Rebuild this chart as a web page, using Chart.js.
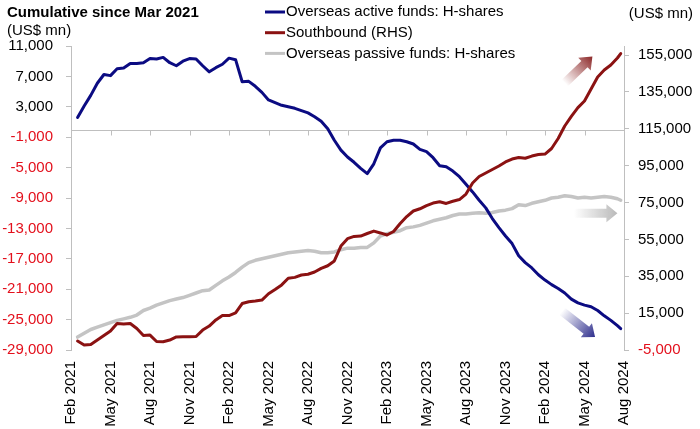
<!DOCTYPE html>
<html>
<head>
<meta charset="utf-8">
<script src="https://cdn.jsdelivr.net/npm/chart.js@4/dist/chart.umd.min.js"></script>
<style>
  html, body { margin: 0; padding: 0; background: #fff; }
  #wrap { width: 700px; height: 429px; position: relative; }
</style>
</head>
<body>
<div id="wrap"><canvas id="flowChart"></canvas></div>
<script>
// months since 1 Feb 2021 (half-month readings)
const months = [
  0.5, 1, 1.5, 2, 2.5, 3, 3.5, 4, 4.5, 5,
  5.5, 6, 6.5, 7, 7.5, 8, 8.5, 9, 9.5, 10,
  10.5, 11, 11.5, 12, 12.5, 13, 13.5, 14, 14.5, 15,
  15.5, 16, 16.5, 17, 17.5, 18, 18.5, 19, 19.5, 20,
  20.5, 21, 21.5, 22, 22.5, 23, 23.5, 24, 24.5, 25,
  25.5, 26, 26.5, 27, 27.5, 28, 28.5, 29, 29.5, 30,
  30.5, 31, 31.5, 32, 32.5, 33, 33.5, 34, 34.5, 35,
  35.5, 36, 36.5, 37, 37.5, 38, 38.5, 39, 39.5, 40,
  40.5, 41, 41.5, 41.75
];

const tickLabels = [
  'Feb 2021', 'May 2021', 'Aug 2021', 'Nov 2021', 'Feb 2022', 'May 2022', 'Aug 2022',
  'Nov 2022', 'Feb 2023', 'May 2023', 'Aug 2023', 'Nov 2023', 'Feb 2024', 'May 2024', 'Aug 2024'
];

// US$ mn, left axis
const activeFunds = [
  1600, 3100, 4500, 6100, 7250, 7100, 8000, 8100, 8700, 8700,
  8800, 9350, 9300, 9500, 8800, 8400, 9000, 9350, 9300, 8400,
  7600, 8150, 8600, 9400, 9200, 6300, 6350, 5700, 4900, 3900,
  3550, 3200, 3000, 2800, 2500, 2200, 1700, 1100, 100, -1400,
  -2700, -3600, -4300, -5100, -5800, -4500, -2400, -1600, -1400, -1400,
  -1600, -1900, -2600, -2900, -3700, -4750, -4900, -5450, -6200, -7200,
  -8200, -9300, -10300, -11700, -12900, -14000, -15000, -16600, -17500, -18200,
  -19100, -19800, -20400, -20900, -21500, -22300, -22800, -23100, -23300, -23800,
  -24500, -25100, -25800, -26200
];

// US$ mn, right axis
const southbound = [
  -100, -2300, -2000, 400, 2900, 5300, 9400, 9100, 9400, 6700,
  2900, 3100, -400, -500, 400, 2100, 2200, 2200, 2300, 5800,
  8000, 11300, 13700, 13700, 15100, 20200, 21200, 21600, 22100, 25500,
  27800, 30300, 33900, 34400, 35700, 36100, 37300, 39300, 40700, 43300,
  51400, 55400, 56600, 56800, 58200, 59500, 58500, 57400, 59300, 63600,
  67400, 70400, 71600, 73300, 74700, 75400, 74500, 75700, 76600, 79600,
  85600, 89100, 91000, 92900, 94800, 97000, 98600, 99400, 99000, 100200,
  101000, 101300, 104300, 109700, 116500, 121700, 126500, 130100, 136600, 143100,
  146900, 149600, 153400, 155800
];

// US$ mn, left axis
const passiveFunds = [
  -27300, -26800, -26300, -26000, -25700, -25400, -25100, -24900, -24700, -24400,
  -23800, -23500, -23100, -22800, -22500, -22300, -22100, -21800, -21500, -21200,
  -21100, -20500, -19900, -19400, -18800, -18100, -17500, -17200, -17000, -16800,
  -16600, -16400, -16200, -16100, -16000, -15900, -16000, -16200, -16200, -16100,
  -15800, -15600, -15600, -15500, -15500, -14900, -14000, -13700, -13500, -13300,
  -12900, -12800, -12600, -12300, -12000, -11800, -11600, -11300, -11100, -11100,
  -11000, -10950, -11000, -10900, -10700, -10600, -10400, -9900, -10000, -9700,
  -9500, -9300, -9000, -8900, -8700, -8800, -9000, -8900, -9000, -8900,
  -8800, -8900, -9100, -9300
];

const leftTicks = [11000, 7000, 3000, -1000, -5000, -9000, -13000, -17000, -21000, -25000, -29000];
const rightTicks = [155000, 135000, 115000, 95000, 75000, 55000, 35000, 15000, -5000];

const FONT = "'Liberation Sans', Arial, sans-serif";
const NEG_RED = '#e3101c';
const AXIS_GREY = '#bfbfbf';

Chart.defaults.font.family = FONT;
Chart.defaults.font.size = 15;
Chart.defaults.color = '#000';

function toPoints(values) {
  return values.map((v, i) => ({ x: months[i], y: v }));
}

function fmt(v) {
  return v.toLocaleString('en-US');
}

// zero line of the left axis, with the small category ticks hanging off it
const zeroLinePlugin = {
  id: 'zeroLine',
  beforeDatasetsDraw(chart) {
    const { ctx, chartArea, scales } = chart;
    const y0 = Math.round(scales.y.getPixelForValue(0)) + 0.5;
    ctx.save();
    ctx.strokeStyle = AXIS_GREY;
    ctx.lineWidth = 1;
    ctx.beginPath();
    ctx.moveTo(chartArea.left, y0);
    ctx.lineTo(chartArea.right, y0);
    scales.x.ticks.forEach(t => {
      const x = Math.round(scales.x.getPixelForValue(t.value)) + 0.5;
      ctx.moveTo(x, y0);
      ctx.lineTo(x, y0 + 5);
    });
    ctx.stroke();
    ctx.restore();
  }
};

// decorative trend arrows, placed in data units
const arrows = [
  { axis: 'y2', from: [37.5, 139800], to: [39.6, 154200], color: [140, 40, 40] },
  { axis: 'y', from: [38.2, -11000], to: [41.5, -11000], color: [185, 185, 185] },
  { axis: 'y', from: [37.3, -23900], to: [39.8, -27300], color: [45, 45, 140] }
];

const arrowPlugin = {
  id: 'arrows',
  afterDatasetsDraw(chart) {
    const { ctx, scales } = chart;
    arrows.forEach(a => {
      const ys = scales[a.axis];
      const x1 = scales.x.getPixelForValue(a.from[0]);
      const y1 = ys.getPixelForValue(a.from[1]);
      const x2 = scales.x.getPixelForValue(a.to[0]);
      const y2 = ys.getPixelForValue(a.to[1]);
      const len = Math.hypot(x2 - x1, y2 - y1);
      const ang = Math.atan2(y2 - y1, x2 - x1);
      const headLen = 11, headW = 9, bodyW = 4.5;
      const c = a.color.join(',');
      ctx.save();
      ctx.translate(x1, y1);
      ctx.rotate(ang);
      const g = ctx.createLinearGradient(0, 0, len, 0);
      g.addColorStop(0, 'rgba(' + c + ',0)');
      g.addColorStop(0.55, 'rgba(' + c + ',0.55)');
      g.addColorStop(1, 'rgba(' + c + ',1)');
      ctx.fillStyle = g;
      ctx.beginPath();
      ctx.moveTo(0, -bodyW);
      ctx.lineTo(len - headLen, -bodyW);
      ctx.lineTo(len - headLen, -headW);
      ctx.lineTo(len, 0);
      ctx.lineTo(len - headLen, headW);
      ctx.lineTo(len - headLen, bodyW);
      ctx.lineTo(0, bodyW);
      ctx.closePath();
      ctx.fill();
      ctx.restore();
    });
  }
};

// title, unit labels and the legend block
const headerPlugin = {
  id: 'header',
  afterDraw(chart) {
    const ctx = chart.ctx;
    ctx.save();
    ctx.fillStyle = '#000';
    ctx.textBaseline = 'middle';
    ctx.textAlign = 'left';
    ctx.font = 'bold 15px ' + FONT;
    ctx.fillText('Cumulative since Mar 2021', 7, 13);
    ctx.font = '15px ' + FONT;
    ctx.fillText('(US$ mn)', 7, 31);
    ctx.textAlign = 'right';
    ctx.fillText('(US$ mn)', 693, 14);
    ctx.textAlign = 'left';
    chart.data.datasets.forEach((ds, i) => {
      const y = 12 + i * 20.7;
      ctx.strokeStyle = ds.borderColor;
      ctx.lineWidth = 3;
      ctx.beginPath();
      ctx.moveTo(265, y);
      ctx.lineTo(285, y);
      ctx.stroke();
      ctx.fillStyle = '#000';
      ctx.fillText(ds.label, 286, y);
    });
    ctx.restore();
  }
};

new Chart(document.getElementById('flowChart'), {
  type: 'line',
  data: {
    datasets: [
      {
        label: 'Overseas active funds: H-shares',
        data: toPoints(activeFunds),
        yAxisID: 'y',
        borderColor: '#0b0b82',
        borderWidth: 3,
        order: 1
      },
      {
        label: 'Southbound (RHS)',
        data: toPoints(southbound),
        yAxisID: 'y2',
        borderColor: '#8b1212',
        borderWidth: 3,
        order: 0
      },
      {
        label: 'Overseas passive funds: H-shares',
        data: toPoints(passiveFunds),
        yAxisID: 'y',
        borderColor: '#c4c4c4',
        borderWidth: 3.5,
        order: 2
      }
    ]
  },
  options: {
    responsive: true,
    maintainAspectRatio: false,
    animation: false,
    layout: { padding: { top: 46, left: 0, right: 0, bottom: 0 } },
    elements: {
      point: { radius: 0 },
      line: { tension: 0, borderJoinStyle: 'round', borderCapStyle: 'round' }
    },
    plugins: {
      legend: { display: false },
      tooltip: { enabled: false }
    },
    scales: {
      x: {
        type: 'linear',
        min: 0,
        max: 42,
        grid: { display: false, drawTicks: false },
        border: { display: false },
        afterBuildTicks(scale) {
          scale.ticks = tickLabels.map((_, i) => ({ value: i * 3 }));
        },
        afterFit(scale) { scale.height = 79; },
        ticks: {
          autoSkip: false,
          minRotation: 90,
          maxRotation: 90,
          padding: 11,
          callback: v => tickLabels[Math.round(v / 3)]
        }
      },
      y: {
        position: 'left',
        min: -29000,
        max: 11000,
        afterBuildTicks(scale) {
          scale.ticks = leftTicks.map(v => ({ value: v }));
        },
        afterFit(scale) { scale.width = 71; },
        grid: { drawOnChartArea: false, tickLength: 5, color: AXIS_GREY },
        border: { color: AXIS_GREY },
        ticks: {
          padding: 13,
          color: c => c.tick.value < 0 ? NEG_RED : '#000',
          callback: v => fmt(v)
        }
      },
      y2: {
        position: 'right',
        min: -5000,
        max: 159900,
        afterBuildTicks(scale) {
          scale.ticks = rightTicks.map(v => ({ value: v }));
        },
        afterFit(scale) { scale.width = 76; },
        grid: { drawOnChartArea: false, tickLength: 5, color: AXIS_GREY },
        border: { color: AXIS_GREY },
        ticks: {
          padding: 9,
          color: c => c.tick.value < 0 ? NEG_RED : '#000',
          callback: v => fmt(v)
        }
      }
    }
  },
  plugins: [zeroLinePlugin, arrowPlugin, headerPlugin]
});
</script>
</body>
</html>
